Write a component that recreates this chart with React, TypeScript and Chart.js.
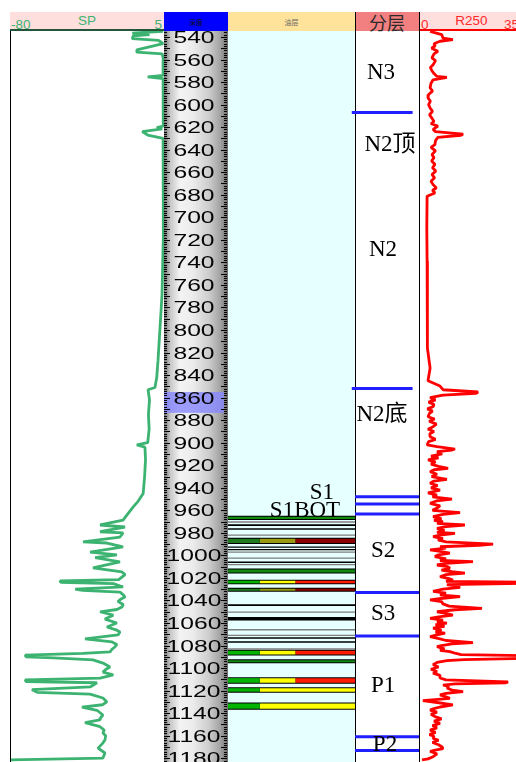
import React, { useEffect, useRef } from "react";
import { Chart, registerables } from "chart.js";

Chart.register(...registerables);

// ---------------- data ----------------
const DEPTH_MIN = 534.7;
const DEPTH_MAX = 1183.3;

const SP_MIN = -80;
const SP_MAX = 5;
const R250_MIN = 0;
const R250_MAX = 35;

const SP_DEPTH = [
  535, 536.5, 538, 539, 541.5, 543, 546, 551.5, 553.5, 555, 560, 574, 575.5, 577, 600, 619, 620.5, 621.5, 624, 627, 630,
  650, 716, 769, 798, 827, 842, 851, 853, 862, 875, 888, 900, 902, 904, 915, 930, 945, 952, 957, 964, 968.6, 973, 974.8,
  979, 980, 983.7, 988, 989, 992.5, 997, 999.6, 1002, 1005.8, 1011, 1014.7, 1017, 1021.5, 1022.7, 1024, 1025, 1028, 1030,
  1031, 1032.5, 1035, 1037, 1039, 1041, 1043.5, 1045.8, 1048, 1050, 1053, 1056.5, 1060, 1063.5, 1066, 1068, 1070.6, 1074,
  1076.8, 1079, 1081, 1083, 1085.6, 1087, 1088.5, 1090, 1091, 1092.7, 1095.5, 1099, 1101, 1103.5, 1106, 1108.8, 1110.5,
  1112, 1113, 1116.7, 1119, 1121.5, 1123, 1126.5, 1130, 1132.5, 1134.7, 1137.4, 1141.6, 1144, 1146, 1148.4, 1152, 1155,
  1157.6, 1160, 1163.8, 1167, 1171, 1175.3, 1179.8, 1181.5,
];
const SP_VALUE = [
  4.5, -12.5, -3, -12, -12.5, 2, 4.5, -10, -10, 4, 4.7, 4.5, -4, 4.5, 4.7, 4.5, 1, 4, -7, -4, 4.5,
  4.7, 4.6, 3.9, 2.8, 1.7, 1.0, 0, -3.8, -3, -3.6, -3.2, -4, -10, -5.5, -5.2, -5.7, -6.5, -9.3, -12, -15.4, -17.6, -30.3, -16.5,
  -30.3, -17.6, -19.3, -39.7, -26.5, -17.6, -35.8, -21, -33, -19.3, -34.2, -18.2, -16.5, -20, -52.4, -52, -23, -17.6, -44,
  -40, -19.3, -17.5, -16.5, -19, -20.4, -17.5, -18.2, -21, -30.3, -23, -27.6, -21, -26.5, -21.5, -19.3, -20.4, -38.6,
  -23.7, -21, -22, -23.5, -24.8, -39.7, -71.7, -71, -56, -34.2, -28.7, -24.8, -27, -28.7, -23, -30.3, -71.7,
  -71, -32, -35.8, -67.9, -65, -35.8, -28.7, -26.5, -29, -40.3, -32, -28.7, -30, -30.3, -38.6, -30.3, -28,
  -28.7, -27.2, -27.6, -29, -31.4, -27.6, -28.7, -80,
];

const R250_DEPTH = [
  535, 538, 541, 542.4, 543.8, 546, 548, 550, 552.7, 555, 558.6, 561, 564.6, 567, 570, 572.5, 575, 575.8, 578, 581, 585,
  588, 591, 594, 597, 600, 603, 606, 609, 612, 615, 617, 619, 622, 624, 626.2, 627.2, 629, 632, 635.6, 638, 641, 644.4,
  647, 650, 653, 656, 659, 662, 665, 668, 671, 674, 676, 678.4, 681.4, 709.5, 738.8, 768.6, 798, 816, 833.7, 845, 849.7,
  853, 855, 856.3, 857.7, 860, 862, 864, 866, 868, 870, 872, 874, 877, 879, 881, 883.5, 885.8, 888, 890, 892, 894.7, 897,
  899, 902, 903.5, 905.6, 906.5, 908, 910, 912, 913.5, 915.3, 917, 919, 921, 922.7, 924, 925.7, 928, 930, 932.5, 934, 936,
  938, 940, 942, 944.6, 946.5, 948, 950, 951.5, 953.8, 956, 958, 960, 962, 963.5, 965.6, 967.5, 969, 970, 971.5, 973,
  974.5, 976, 978, 979.5, 980.4, 982, 983.4, 985, 986.3, 988, 990, 991, 992.3, 993.5, 995, 996.5, 998, 999.5, 1001, 1003,
  1004.5, 1005.6, 1007, 1008.5, 1010, 1011.4, 1013, 1014.5, 1015.8, 1017, 1018.9, 1020.5, 1021.8, 1023, 1023.8, 1024.8,
  1026, 1027, 1028.3, 1030, 1032, 1033.5, 1035, 1036.6, 1038, 1039.5, 1041, 1043, 1045, 1047, 1048.2, 1050, 1051.5,
  1052.9, 1054.5, 1055.8, 1057.5, 1059, 1060, 1061.5, 1063, 1064.6, 1066.5, 1068, 1069, 1070.5, 1072, 1074, 1075.5,
  1077.4, 1078.5, 1080, 1081, 1083, 1084.2, 1085.4, 1086.8, 1088, 1089, 1091.3, 1092.5, 1093.4, 1095, 1097, 1099, 1101,
  1103, 1104.5, 1106.5, 1108.8, 1110.5, 1112.3, 1113, 1114, 1115, 1116.5, 1117.7, 1119.5, 1120.9, 1122.5, 1123.8, 1125.5,
  1126.8, 1128.9, 1130.5, 1132.7, 1134.5, 1136, 1137.2, 1139, 1141, 1143, 1145, 1147, 1149, 1151, 1153, 1155, 1157,
  1159, 1160.5, 1162.3, 1164, 1166, 1168, 1170, 1171.5, 1173, 1174, 1176, 1178.6, 1180.5, 1181.5,
];
const R250_VALUE = [
  3.7, 7.6, 8, 11.3, 7, 5, 5.3, 4.2, 6.3, 5, 4.3, 5.5, 4.7, 3.8, 4.3, 5, 6, 9.3, 4.7, 4, 3.7,
  4.5, 3.2, 3, 3.8, 3.2, 3.7, 4.5, 3.5, 4.3, 5, 4, 6.3, 4.7, 5.5, 14.7, 14, 6.3, 5.5, 5.3, 4, 5.5, 4.3,
  5, 4.2, 5.3, 4.5, 5.6, 4.3, 5.2, 4, 4.7, 5.8, 4.5, 5.3, 2.7, 2.6, 2.7, 2.7, 2.8, 2.9, 3.7, 3, 7,
  8, 19.7, 19, 8, 3.7, 5.5, 3.2, 5, 4.7, 2.8, 4.5, 3.5, 3, 5.2, 3.4, 5.8, 4.7, 3, 5, 3.6, 3.7, 5.5,
  3.2, 2.7, 6, 12, 11, 6, 7.7, 4, 6.5, 3, 5.5, 4, 6.5, 9.7, 5, 3.7, 6, 4.2, 9.3, 5, 3.7,
  6.2, 4, 7, 3, 6, 4.5, 11, 6, 3.7, 7, 6, 4.5, 13.7, 8, 4.7, 7.5, 5, 8, 6, 15.3,
  9, 6, 8.5, 6, 12, 7, 4.7, 8, 6.3, 9, 24.7, 20, 7, 9, 3.7, 7, 10.3, 6.5, 5.3, 9,
  7, 18, 9, 6, 9.5, 10.3, 7.5, 11, 15.3, 9, 7, 10, 11.3, 9, 36, 36,
  9.3, 12, 13.7, 8, 4.7, 9, 7, 13.7, 8, 3.7, 7.5, 8, 10, 21, 12, 6, 9,
  11.3, 6.5, 3.7, 8, 6, 9.3, 5.5, 8.5, 4.7, 7.5, 5.5, 8.7, 6, 3.7, 7, 9,
  18, 11, 7.5, 6, 8.5, 7, 10.3, 12, 14, 36, 36, 15, 9.3, 6, 4.7, 6.5, 4,
  6, 4.7, 7, 7, 9, 29.7, 29, 12, 8, 10, 9.3, 11, 14.7, 9, 7, 9,
  10.3, 1.3, 6, 11.3, 7, 5, 3.7, 6, 4, 5.3, 7.5, 5, 7, 4.5, 6, 3.7, 5.5,
  3.5, 5, 4.7, 6.5, 4.5, 6.5, 7.7, 8, 5, 3.7, 6, 4.7, 3, 1,
];

// depth tick labels
const DEPTH_LABELS = [
  540, 560, 580, 600, 620, 640, 660, 680, 700, 720, 740, 760, 780, 800, 820, 840, 860, 880, 900, 920, 940, 960, 980,
  1000, 1020, 1040, 1060, 1080, 1100, 1120, 1140, 1160, 1180,
];
const CORE_TOP = 855;
const CORE_BOTTOM = 873.5;

// lithology / show intervals
const LITH_TOP = [
  965.8, 969.6, 972.3, 975.9, 981.4, 985.3, 992.0, 994.2, 996.5, 1001.8, 1005.3, 1007.6, 1012.4, 1022.4, 1029.6, 1043.4,
  1049.7, 1054.6, 1065.4, 1070.5, 1072.6, 1076.2, 1082.4, 1084.6, 1093.0, 1108.9, 1117.8, 1131.4,
];
const LITH_BOTTOM = [
  967.6, 971.0, 973.8, 977.3, 982.5, 989.0, 993.3, 995.5, 997.7, 1003.0, 1006.7, 1008.8, 1015.2, 1024.8, 1031.4, 1044.8,
  1050.9, 1057.8, 1066.6, 1071.5, 1073.9, 1077.5, 1083.6, 1088.0, 1094.8, 1113.0, 1120.9, 1136.0,
];
const LITH_KIND = [
  "water", "silt", "mud", "mud", "silt", "poor", "mud", "mud", "silt", "silt", "mud", "silt", "water", "oil", "poor", "mud",
  "silt", "mud", "silt", "silt", "mud", "mud", "silt", "oil", "water", "oil", "oilwater", "oilwater",
];

// formation tops (分层)
const LAYER_BOUNDARIES = [607, 852, 948, 954.4, 963.3, 1033, 1071.5, 1161, 1173];
const LAYER_NAMES = ["N3", "N2顶", "N2", "N2底", "S1", "S1BOT", "S2", "S3", "P1", "P2"];
const LAYER_NAME_DEPTHS = [570, 634, 727, 873.6, 943, 959, 994, 1050, 1114, 1166.5];

// ---------------- layout / style ----------------
const BODY_TOP = 31;
const BODY_H = 762 - BODY_TOP;
const LABEL_X = [0.406, 0.547, 0.438, 0.422, -0.516, -0.781, 0.438, 0.438, 0.438, 0.469];

const KIND_SEGMENTS: Record<string, [number, number, string][]> = {
  mud: [[0, 1, "#000000"]],
  silt: [[0, 1, "#7e7e7e"]],
  oil: [[0, 0.25, "#00b400"], [0.25, 0.53, "#ffff00"], [0.53, 1, "#ff1a00"]],
  poor: [[0, 0.25, "#1d7a1d"], [0.25, 0.53, "#9a9a10"], [0.53, 1, "#8b0000"]],
  water: [[0, 1, "#0f8a0f"]],
  oilwater: [[0, 0.25, "#00b400"], [0.25, 1, "#ffff00"]],
};

function baseOptions(xmin: number, xmax: number) {
  return {
    responsive: false,
    animation: false as const,
    events: [] as any[],
    layout: { padding: 0 },
    plugins: { legend: { display: false }, tooltip: { enabled: false } },
    scales: {
      x: { type: "linear" as const, min: xmin, max: xmax, display: false },
      y: { type: "linear" as const, min: DEPTH_MIN, max: DEPTH_MAX, reverse: true, display: false },
    },
  };
}

function curveConfig(depths: number[], values: number[], min: number, max: number, color: string, width: number) {
  return {
    type: "line" as const,
    data: {
      datasets: [
        {
          data: depths.map((d, i) => ({ x: values[i], y: d })),
          borderColor: color,
          borderWidth: width,
          pointRadius: 0,
          tension: 0,
          fill: false,
          borderJoinStyle: "bevel" as const,
        },
      ],
    },
    options: baseOptions(min, max),
  };
}

function spConfig() {
  return curveConfig(SP_DEPTH, SP_VALUE, SP_MIN, SP_MAX, "#3cb371", 2.8);
}
function r250Config() {
  return curveConfig(R250_DEPTH, R250_VALUE, R250_MIN, R250_MAX, "#ff0000", 2.8);
}

const depthPlugin = {
  id: "depthTrack",
  beforeDraw(chart: any) {
    const { ctx, chartArea: a, scales } = chart;
    const y = scales.y;
    ctx.save();
    const g = ctx.createLinearGradient(a.left, 0, a.right, 0);
    g.addColorStop(0, "#6e6e6e");
    g.addColorStop(0.1, "#c8c8c8");
    g.addColorStop(0.25, "#f3f3f3");
    g.addColorStop(0.45, "#ececec");
    g.addColorStop(0.7, "#cdcdcd");
    g.addColorStop(0.88, "#a3a3a3");
    g.addColorStop(1, "#6c6c6c");
    ctx.fillStyle = g;
    ctx.fillRect(a.left, a.top, a.width, a.height);

    const c0 = y.getPixelForValue(CORE_TOP);
    const c1 = y.getPixelForValue(CORE_BOTTOM);
    ctx.fillStyle = "rgba(135,135,255,0.8)";
    ctx.fillRect(a.left, c0, a.width - 4, c1 - c0);

    ctx.fillStyle = "#000";
    for (let d = Math.ceil(DEPTH_MIN / 2) * 2; d <= DEPTH_MAX; d += 2) {
      const py = Math.round(y.getPixelForValue(d));
      const len = d % 10 === 0 ? 6 : 3;
      ctx.fillRect(a.left, py, len, 1);
      ctx.fillRect(a.right - len - 1, py, len, 1);
    }

    ctx.font = '17px "Liberation Sans", Arial, sans-serif';
    ctx.textAlign = "center";
    ctx.textBaseline = "alphabetic";
    ctx.fillStyle = "#050505";
    for (const d of DEPTH_LABELS) {
      const py = y.getPixelForValue(d);
      ctx.save();
      ctx.translate(a.left + 30, py + 6);
      ctx.scale(1.45, 1);
      ctx.fillText(String(d), 0, 0);
      ctx.restore();
    }
    ctx.restore();
  },
};

function depthConfig() {
  return {
    type: "line" as const,
    data: { datasets: [] as any[] },
    options: baseOptions(0, 1),
    plugins: [depthPlugin],
  };
}

const lithBgPlugin = {
  id: "lithBg",
  beforeDraw(chart: any) {
    const { ctx, chartArea: a } = chart;
    ctx.save();
    ctx.fillStyle = "#e6ffff";
    ctx.fillRect(a.left, a.top, a.width, a.height);
    ctx.restore();
  },
};

function thickness(top: number, bottom: number, extra: number) {
  return (ctx: any) => {
    const s = ctx.chart.scales.y;
    if (!s) return 1 + extra;
    return Math.max(1, Math.abs(s.getPixelForValue(bottom) - s.getPixelForValue(top))) + extra;
  };
}

function lithConfig() {
  const datasets: any[] = [];
  LITH_TOP.forEach((top, i) => {
    const bottom = LITH_BOTTOM[i];
    const mid = (top + bottom) / 2;
    const kind = LITH_KIND[i];
    const seg = (x0: number, x1: number, color: string, extra: number, order: number) => ({
      data: [
        { x: x0, y: mid },
        { x: x1, y: mid },
      ],
      borderColor: color,
      borderWidth: thickness(top, bottom, extra),
      borderCapStyle: "butt",
      pointRadius: 0,
      fill: false,
      order,
    });
    if (kind !== "mud" && kind !== "silt") datasets.push(seg(0, 1, "#000000", 2, 1));
    for (const [x0, x1, c] of KIND_SEGMENTS[kind]) datasets.push(seg(x0, x1, c, 0, 0));
  });
  return {
    type: "line" as const,
    data: { datasets },
    options: baseOptions(0, 1),
    plugins: [lithBgPlugin],
  };
}

const layerLabelPlugin = {
  id: "layerLabels",
  afterDatasetsDraw(chart: any) {
    const { ctx, scales } = chart;
    ctx.save();
    ctx.font = '23px "Liberation Serif", "Times New Roman", "Noto Sans CJK SC", serif';
    ctx.textAlign = "center";
    ctx.textBaseline = "alphabetic";
    ctx.fillStyle = "#000";
    LAYER_NAMES.forEach((name, i) => {
      const px = scales.x.getPixelForValue(LABEL_X[i]);
      const py = scales.y.getPixelForValue(LAYER_NAME_DEPTHS[i]);
      ctx.fillText(name, px, py + 8);
    });
    ctx.restore();
  },
};

function layerConfig() {
  const datasets = LAYER_BOUNDARIES.map((d, i) => ({
    data: [
      { x: i < 2 ? -0.05 : 0, y: d },
      { x: i < 2 ? 0.9 : 1, y: d },
    ],
    borderColor: "#1f1fff",
    borderWidth: 3,
    borderCapStyle: "butt",
    pointRadius: 0,
    fill: false,
  }));
  return {
    type: "line" as const,
    data: { datasets },
    options: baseOptions(-127 / 64, 1),
    plugins: [layerLabelPlugin],
  };
}

function ChartCanvas(props: { left: number; width: number; make: () => any; z?: number }) {
  const ref = useRef<HTMLCanvasElement>(null);
  useEffect(() => {
    const chart = new Chart(ref.current as HTMLCanvasElement, props.make());
    return () => chart.destroy();
  }, []);
  return (
    <canvas
      ref={ref}
      width={props.width}
      height={BODY_H}
      style={{
        position: "absolute",
        left: props.left,
        top: BODY_TOP,
        width: props.width,
        height: BODY_H,
        display: "block",
        zIndex: props.z ?? 1,
      }}
    />
  );
}

const hdrFont = '13.5px "Liberation Sans", Arial, sans-serif';

export default function App() {
  const abs = (s: React.CSSProperties): React.CSSProperties => ({ position: "absolute", ...s });
  return (
    <div style={abs({ left: 0, top: 0, width: 516, height: 762, overflow: "hidden", background: "#fff" })}>
      {/* headers */}
      <div style={abs({ left: 10, top: 12, width: 154, height: 19, background: "#ffdede", borderBottom: "2px solid #23553a", boxSizing: "border-box", font: hdrFont, lineHeight: "13.5px", color: "#3cb371" })}>
        <span style={abs({ left: 1, top: 6 })}>-80</span>
        <span style={abs({ left: 0, right: 0, top: 2, textAlign: "center" })}>SP</span>
        <span style={abs({ right: 2, top: 6 })}>5</span>
      </div>
      <div style={abs({ left: 164, top: 12, width: 64, height: 19, background: "#0000ff", display: "flex", alignItems: "center", justifyContent: "center", font: '7px "Noto Sans CJK SC", sans-serif', color: "#111" })}>
        深度
      </div>
      <div style={abs({ left: 228, top: 12, width: 127, height: 19, background: "#ffe39b", display: "flex", alignItems: "center", justifyContent: "center", font: '7px "Noto Sans CJK SC", sans-serif', color: "#666" })}>
        油层
      </div>
      <div style={abs({ left: 355, top: 12, width: 64, height: 19, background: "#f28080", display: "flex", alignItems: "center", justifyContent: "center", font: '18px "Noto Sans CJK SC", sans-serif', color: "#2a2a2a" })}>
        分层
      </div>
      <div style={abs({ left: 419, top: 12, width: 105, height: 19, background: "#ffdede", borderBottom: "2px solid #ff0000", boxSizing: "border-box", font: hdrFont, lineHeight: "13.5px", color: "#ff2a2a" })}>
        <span style={abs({ left: 2, top: 6 })}>0</span>
        <span style={abs({ left: 0, right: 0, top: 2, textAlign: "center" })}>R250</span>
        <span style={abs({ right: 5, top: 6 })}>35</span>
      </div>

      {/* tracks */}
      <ChartCanvas left={10} width={154} make={spConfig} />
      <ChartCanvas left={164} width={64} make={depthConfig} />
      <ChartCanvas left={228} width={127} make={lithConfig} />
      <ChartCanvas left={419} width={105} make={r250Config} />

      {/* borders */}
      <div style={abs({ left: 10, top: 31, width: 1, height: 731, background: "#000", zIndex: 2 })} />
      <div style={abs({ left: 355, top: 12, width: 1, height: 750, background: "#000", zIndex: 2 })} />
      <div style={abs({ left: 419, top: 12, width: 1, height: 750, background: "#000", zIndex: 2 })} />

      <ChartCanvas left={228} width={191} make={layerConfig} z={3} />
    </div>
  );
}
